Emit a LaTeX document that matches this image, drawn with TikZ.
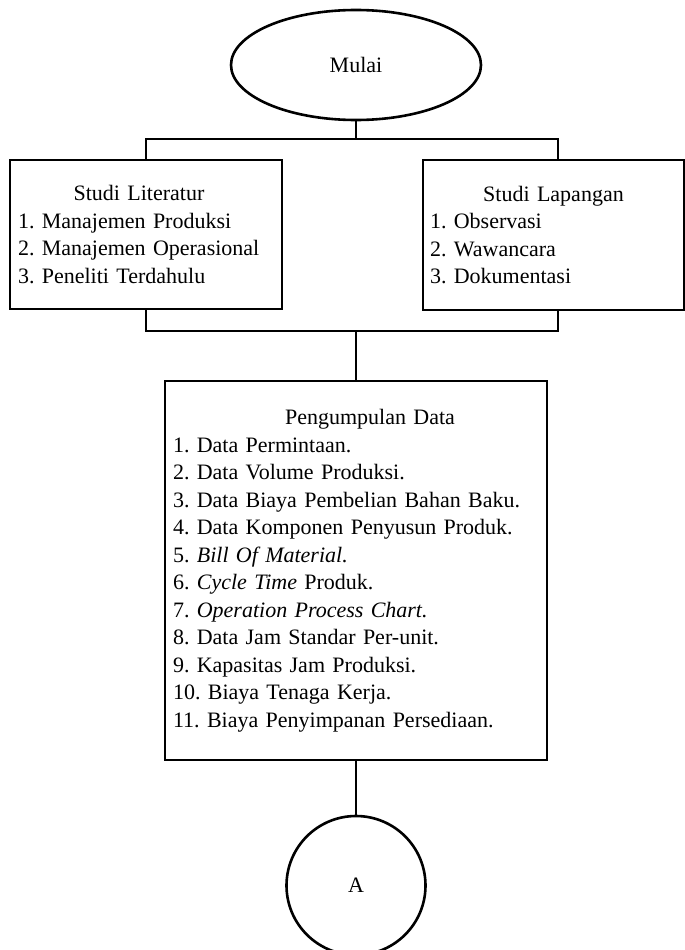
\documentclass[tikz,border=0pt]{standalone}
\usepackage{fontspec}
\setmainfont{Liberation Serif}
\usetikzlibrary{shapes.geometric}

\begin{document}
\frenchspacing
\begin{tikzpicture}[x=1pt, y=-1pt,
        garis/.style={line width=2.6pt},
        kotak/.style={draw, line width=2.6pt, rectangle, align=left, inner xsep=7pt,
                      font=\fontsize{22}{27.5}\selectfont},
        terminal/.style={draw, line width=2.6pt, ellipse, minimum width=250pt, minimum height=110pt,
                      inner sep=0pt, font=\fontsize{22}{27.5}\selectfont},
        penghubung/.style={draw, line width=2.6pt, circle, minimum size=139pt, inner sep=0pt,
                      font=\fontsize{22}{27.5}\selectfont}]

        % page frame, same size as the reference
        \useasboundingbox (0,0) rectangle (685,950);
        \clip (0,0) rectangle (685,950);

        % start
        \node[terminal] (mulai) at (356,65) {Mulai};

        % two studies side by side
        \node[kotak, minimum width=272pt, minimum height=149pt, text width=256pt] (literatur) at (146,234.5)
                {\makebox[\linewidth]{\hspace{-14pt}Studi Literatur}\\
                 1. Manajemen Produksi\\
                 2. Manajemen Operasional\\
                 3. Peneliti Terdahulu};
        \node[kotak, minimum width=261pt, minimum height=150pt, text width=247pt] (lapangan) at (553.5,235)
                {\makebox[\linewidth]{Studi Lapangan}\\
                 1. Observasi\\
                 2. Wawancara\\
                 3. Dokumentasi};

        % data collection
        \node[kotak, minimum width=382pt, minimum height=379pt, text width=366pt, inner xsep=8pt] (data) at (356,570.5)
                {\makebox[\linewidth]{\hspace{28pt}Pengumpulan Data}\\
                 1. Data Permintaan.\\
                 2. Data Volume Produksi.\\
                 3. Data Biaya Pembelian Bahan Baku.\\
                 4. Data Komponen Penyusun Produk.\\
                 5. \textit{Bill Of Material.}\\
                 6. \textit{Cycle Time} Produk.\\
                 7. \textit{Operation Process Chart.}\\
                 8. Data Jam Standar Per-unit.\\
                 9. Kapasitas Jam Produksi.\\
                 10. Biaya Tenaga Kerja.\\
                 11. Biaya Penyimpanan Persediaan.};

        % off-page connector
        \node[penghubung] (sambung) at (356,885.5) {A};

        % bus lines
        \coordinate (busatas) at (356,139);
        \coordinate (busbawah) at (356,331);
        \coordinate (kiriatas) at (146,139);
        \coordinate (kananatas) at (558,139);
        \coordinate (kiribawah) at (146,331);
        \coordinate (kananbawah) at (558,331);

        \draw[garis] (mulai.south) -- (busatas);
        \draw[garis] (literatur.north) -- (kiriatas) -- (kananatas) -- (kananatas |- lapangan.north);
        \draw[garis] (literatur.south) -- (kiribawah) -- (kananbawah) -- (kananbawah |- lapangan.south);
        \draw[garis] (busbawah) -- (data.north);
        \draw[garis] (data.south) -- (sambung.north);

\end{tikzpicture}
\end{document}
